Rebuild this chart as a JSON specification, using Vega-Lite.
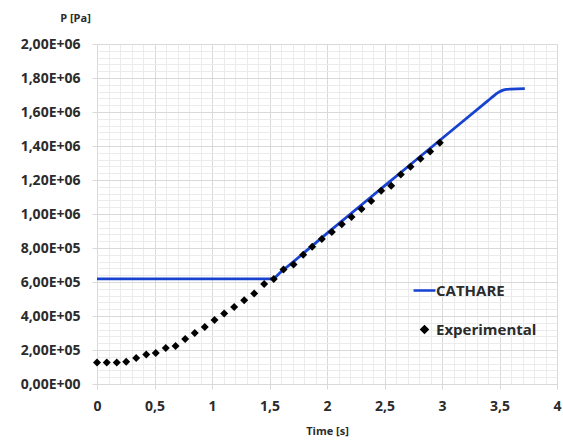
{
  "$schema": "https://vega.github.io/schema/vega-lite/v6.json",
  "width": 460,
  "height": 340,
  "autosize": "none",
  "padding": {"left": 97, "top": 44, "right": 6, "bottom": 57},
  "background": "white",
  "config": {
    "view": {"stroke": null},
    "font": "Open Sans",
    "axis": {"labelFont": "Open Sans", "labelFontWeight": "bold", "labelColor": "#2b2b2b", "titleFont": "Open Sans", "titleColor": "#2b2b2b"}
  },
  "data": {
    "values": [
      {"series": "CATHARE", "t": 0, "p": 618000},
      {"series": "CATHARE", "t": 1.52, "p": 618000},
      {"series": "CATHARE", "t": 1.6, "p": 660000},
      {"series": "CATHARE", "t": 2.0, "p": 886000},
      {"series": "CATHARE", "t": 2.5, "p": 1165000},
      {"series": "CATHARE", "t": 3.0, "p": 1444000},
      {"series": "CATHARE", "t": 3.4, "p": 1667000},
      {"series": "CATHARE", "t": 3.45, "p": 1695000},
      {"series": "CATHARE", "t": 3.48, "p": 1711000},
      {"series": "CATHARE", "t": 3.52, "p": 1726000},
      {"series": "CATHARE", "t": 3.56, "p": 1733000},
      {"series": "CATHARE", "t": 3.6, "p": 1735000},
      {"series": "CATHARE", "t": 3.72, "p": 1737000},
      {"series": "Experimental", "t": 0, "p": 127000},
      {"series": "Experimental", "t": 0.085, "p": 127000},
      {"series": "Experimental", "t": 0.172, "p": 127000},
      {"series": "Experimental", "t": 0.254, "p": 131000},
      {"series": "Experimental", "t": 0.341, "p": 153000},
      {"series": "Experimental", "t": 0.428, "p": 174000},
      {"series": "Experimental", "t": 0.511, "p": 182000},
      {"series": "Experimental", "t": 0.598, "p": 212000},
      {"series": "Experimental", "t": 0.683, "p": 224000},
      {"series": "Experimental", "t": 0.767, "p": 265000},
      {"series": "Experimental", "t": 0.85, "p": 300000},
      {"series": "Experimental", "t": 0.937, "p": 335000},
      {"series": "Experimental", "t": 1.022, "p": 376000},
      {"series": "Experimental", "t": 1.106, "p": 415000},
      {"series": "Experimental", "t": 1.193, "p": 453000},
      {"series": "Experimental", "t": 1.28, "p": 492000},
      {"series": "Experimental", "t": 1.367, "p": 533000},
      {"series": "Experimental", "t": 1.454, "p": 588000},
      {"series": "Experimental", "t": 1.537, "p": 618000},
      {"series": "Experimental", "t": 1.622, "p": 674000},
      {"series": "Experimental", "t": 1.709, "p": 703000},
      {"series": "Experimental", "t": 1.793, "p": 760000},
      {"series": "Experimental", "t": 1.871, "p": 808000},
      {"series": "Experimental", "t": 1.955, "p": 853000},
      {"series": "Experimental", "t": 2.042, "p": 894000},
      {"series": "Experimental", "t": 2.129, "p": 939000},
      {"series": "Experimental", "t": 2.213, "p": 982000},
      {"series": "Experimental", "t": 2.3, "p": 1030000},
      {"series": "Experimental", "t": 2.384, "p": 1076000},
      {"series": "Experimental", "t": 2.471, "p": 1137000},
      {"series": "Experimental", "t": 2.558, "p": 1166000},
      {"series": "Experimental", "t": 2.642, "p": 1233000},
      {"series": "Experimental", "t": 2.726, "p": 1278000},
      {"series": "Experimental", "t": 2.813, "p": 1325000},
      {"series": "Experimental", "t": 2.897, "p": 1368000},
      {"series": "Experimental", "t": 2.981, "p": 1419000}
    ]
  },
  "layer": [
    {
      "transform": [{"filter": "datum.series === 'CATHARE'"}],
      "mark": {"type": "line", "strokeWidth": 2.8, "interpolate": "monotone"},
      "encoding": {
        "x": {"field": "t", "type": "quantitative", "scale": {"domain": [0, 4], "nice": false},
          "axis": {"values": [0,0.1,0.2,0.3,0.4,0.5,0.6,0.7,0.8,0.9,1,1.1,1.2,1.3,1.4,1.5,1.6,1.7,1.8,1.9,2,2.1,2.2,2.3,2.4,2.5,2.6,2.7,2.8,2.9,3,3.1,3.2,3.3,3.4,3.5,3.6,3.7,3.8,3.9,4],
            "orient": "bottom", "grid": true, "gridColor": "#ebebeb", "gridWidth": 1, "labels": false, "ticks": false, "domain": false, "title": null}},
        "y": {"field": "p", "type": "quantitative", "scale": {"domain": [0, 2000000], "nice": false},
          "axis": {"values": [0,40000,80000,120000,160000,200000,240000,280000,320000,360000,400000,440000,480000,520000,560000,600000,640000,680000,720000,760000,800000,840000,880000,920000,960000,1000000,1040000,1080000,1120000,1160000,1200000,1240000,1280000,1320000,1360000,1400000,1440000,1480000,1520000,1560000,1600000,1640000,1680000,1720000,1760000,1800000,1840000,1880000,1920000,1960000,2000000],
            "orient": "left", "grid": true, "gridColor": "#ebebeb", "gridWidth": 1, "labels": false, "ticks": false, "domain": false, "title": null}},
        "color": {"field": "series", "type": "nominal",
          "scale": {"domain": ["CATHARE", "Experimental"], "range": ["#1743d0", "#000000"]},
          "legend": {
            "orient": "none", "legendX": 320, "legendY": 239, "title": null,
            "labelFont": "Open Sans", "labelFontWeight": "bold", "labelFontSize": 15, "labelColor": "#2b2b2b",
            "rowPadding": 22, "labelOffset": 4, "symbolSize": 480,
            "encode": {"symbols": {"update": {
              "shape": {"signal": "datum.value === 'CATHARE' ? 'stroke' : 'diamond'"},
              "size": {"signal": "datum.value === 'CATHARE' ? 480 : 36"},
              "stroke": {"signal": "datum.value === 'CATHARE' ? '#1743d0' : 'transparent'"},
              "fill": {"signal": "datum.value === 'CATHARE' ? 'transparent' : '#000000'"},
              "strokeWidth": {"value": 2.5},
              "opacity": {"value": 1}
            }}}
          }}
      }
    },
    {
      "transform": [{"filter": "datum.series === 'Experimental'"}],
      "mark": {"type": "point", "shape": "diamond", "filled": true, "size": 64, "opacity": 1},
      "encoding": {
        "x": {"field": "t", "type": "quantitative",
          "axis": {"values": [0,0.5,1,1.5,2,2.5,3,3.5,4], "orient": "bottom", "grid": true, "gridColor": "#d9d9d9", "domain": false,
            "ticks": true, "tickColor": "#d9d9d9", "tickSize": 5, "labelPadding": 10, "labelFontSize": 14, "labelFlush": false,
            "labelExpr": "replace(format(datum.value, '~g'), '.', ',')",
            "title": "Time [s]", "titleFontSize": 11, "titleFontWeight": "bold", "titlePadding": 12}},
        "y": {"field": "p", "type": "quantitative",
          "axis": {"values": [0,200000,400000,600000,800000,1000000,1200000,1400000,1600000,1800000,2000000], "orient": "left", "grid": true, "gridColor": "#d9d9d9", "domain": false,
            "ticks": true, "tickColor": "#d9d9d9", "tickSize": 5, "labelPadding": 12, "labelFontSize": 14,
            "labelExpr": "datum.value == 0 ? '0,00E+00' : replace(format(datum.value / pow(10, floor(log(datum.value)/LN10 + 1e-9)), '.2f'), '.', ',') + 'E+0' + floor(log(datum.value)/LN10 + 1e-9)",
            "title": "P [Pa]", "titleFontSize": 11, "titleFontWeight": "bold", "titleAngle": 0,
            "titleX": -22, "titleY": -26, "titleAlign": "center", "titleBaseline": "middle"}},
        "color": {"field": "series", "type": "nominal"}
      }
    }
  ],
  "resolve": {"axis": {"x": "independent", "y": "independent"}}
}
